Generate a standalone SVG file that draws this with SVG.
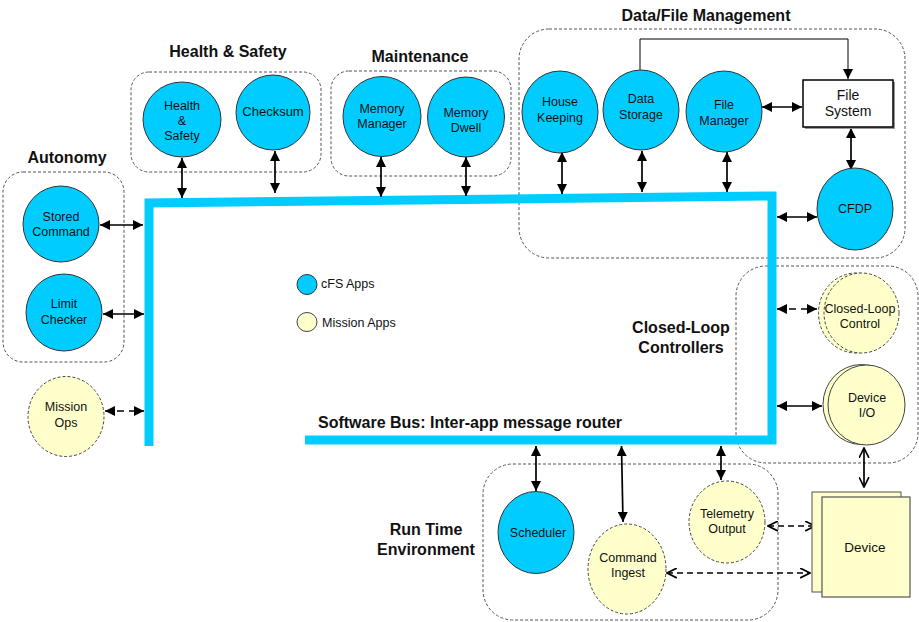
<svg xmlns="http://www.w3.org/2000/svg" width="919" height="622" viewBox="0 0 919 622">
<style>
text{font-family:"Liberation Sans",Arial,Helvetica,sans-serif;fill:#111}
.t{font-size:16px;font-weight:bold;text-anchor:middle}
.n{font-size:12.5px;text-anchor:middle}
.grp{fill:none;stroke:#555;stroke-width:1;stroke-dasharray:3 2}
.cfs{fill:#00CCFF;stroke:#333;stroke-width:1}
.mis{fill:#FFFFCC;stroke:#444;stroke-width:1;stroke-dasharray:3 2}
.mis2{fill:#FFFFCC;stroke:#444;stroke-width:1}
.c{stroke:#000;stroke-width:1.7;fill:none;marker-start:url(#ah);marker-end:url(#ah)}
.cd{stroke:#000;stroke-width:1.7;fill:none;stroke-dasharray:7 5;marker-start:url(#ah);marker-end:url(#ah)}
.co{stroke:#000;stroke-width:1.7;fill:none;marker-start:url(#ao);marker-end:url(#ao)}
.cod{stroke:#000;stroke-width:1.7;fill:none;stroke-dasharray:6 4;marker-start:url(#ao);marker-end:url(#ao)}
</style>
<defs>
<marker id="ah" viewBox="0 0 10 10" refX="10" refY="5" markerWidth="10" markerHeight="10" markerUnits="userSpaceOnUse" orient="auto-start-reverse"><path d="M0,0 L10,5 L0,10 z" fill="#000"/></marker>
<marker id="ao" viewBox="0 0 10 10" refX="9" refY="5" markerWidth="11" markerHeight="11" markerUnits="userSpaceOnUse" orient="auto-start-reverse"><path d="M0,0.5 L9,5 L0,9.5" fill="none" stroke="#000" stroke-width="1.5"/></marker>
</defs>
<rect width="919" height="622" fill="#fff"/>

<!-- group boxes -->
<g id="groups">
<rect class="grp" x="131" y="72" width="190" height="100" rx="18"/>
<rect class="grp" x="3" y="172" width="121" height="190" rx="20"/>
<rect class="grp" x="331" y="71" width="180" height="105" rx="18"/>
<rect class="grp" x="519" y="29" width="386" height="229" rx="30"/>
<rect class="grp" x="736" y="266" width="182" height="197" rx="30"/>
<rect class="grp" x="483" y="464" width="295" height="156" rx="30"/>
</g>

<!-- titles -->
<g id="titles">
<text class="t" x="228" y="57">Health &amp; Safety</text>
<text class="t" x="67" y="163">Autonomy</text>
<text class="t" x="420" y="62">Maintenance</text>
<text class="t" x="706" y="21">Data/File Management</text>
<text class="t" x="681" y="333">Closed-Loop</text>
<text class="t" x="681" y="353">Controllers</text>
<text class="t" x="318" y="428" style="text-anchor:start">Software Bus: Inter-app message router</text>
<text class="t" x="426" y="535">Run Time</text>
<text class="t" x="426" y="555">Environment</text>
</g>

<!-- software bus -->
<g id="software-bus">
<path d="M149,446 V203 L772,196 V440 H305" fill="none" stroke="#00CCFF" stroke-width="9" stroke-linejoin="miter"/>
</g>

<!-- connectors -->
<g id="connectors">
<line class="c" x1="182" y1="158" x2="182" y2="198"/>
<line class="c" x1="275" y1="151" x2="275" y2="193"/>
<line class="c" x1="100" y1="225" x2="143" y2="225"/>
<line class="c" x1="103" y1="314" x2="144" y2="314"/>
<line class="cd" x1="105" y1="411" x2="144" y2="411"/>
<line class="c" x1="381" y1="157" x2="381" y2="197"/>
<line class="c" x1="466" y1="157" x2="466" y2="196"/>
<line class="c" x1="562" y1="152" x2="562" y2="194"/>
<line class="c" x1="642" y1="151" x2="642" y2="192"/>
<line class="c" x1="727" y1="152" x2="727" y2="192"/>
<line class="c" x1="762" y1="107" x2="802" y2="107"/>
<line class="c" x1="851" y1="128" x2="851" y2="170"/>
<line class="c" x1="777" y1="217" x2="817" y2="217"/>
<path d="M640,70 V39 H848 V79" fill="none" stroke="#000" stroke-width="1" marker-end="url(#ah)"/>
<line class="cd" x1="777" y1="309" x2="817" y2="309"/>
<line class="c" x1="777" y1="406" x2="822" y2="406"/>
<line class="co" x1="864" y1="448" x2="864" y2="487"/>
<line class="c" x1="536" y1="446" x2="536" y2="491"/>
<line class="c" x1="621.5" y1="446" x2="623" y2="522"/>
<line class="c" x1="721" y1="446" x2="721" y2="480"/>
<line class="cod" x1="768" y1="526" x2="815" y2="526"/>
<line class="cod" x1="667" y1="573" x2="810" y2="573"/>
</g>

<!-- nodes -->
<g id="node-health-safety">
<ellipse class="cfs" cx="182" cy="119.5" rx="39" ry="37.5"/>
<text class="n" x="182" y="110">Health</text>
<text class="n" x="182" y="125">&amp;</text>
<text class="n" x="182" y="140">Safety</text>
</g>
<g id="node-checksum">
<ellipse class="cfs" cx="273" cy="112.5" rx="37" ry="37.5"/>
<text class="n" x="273" y="116" style="font-size:13px">Checksum</text>
</g>
<g id="node-stored-command">
<ellipse class="cfs" cx="61" cy="224" rx="38" ry="38"/>
<text class="n" x="61" y="221">Stored</text>
<text class="n" x="61" y="236">Command</text>
</g>
<g id="node-limit-checker">
<ellipse class="cfs" cx="64" cy="312.5" rx="38" ry="38.5"/>
<text class="n" x="64" y="308">Limit</text>
<text class="n" x="64" y="324">Checker</text>
</g>
<g id="node-mission-ops">
<ellipse class="mis" cx="66" cy="416.5" rx="38" ry="40"/>
<text class="n" x="66" y="411">Mission</text>
<text class="n" x="66" y="427">Ops</text>
</g>
<g id="node-memory-manager">
<ellipse class="cfs" cx="382" cy="116.5" rx="39" ry="40"/>
<text class="n" x="382" y="113">Memory</text>
<text class="n" x="382" y="128">Manager</text>
</g>
<g id="node-memory-dwell">
<ellipse class="cfs" cx="466" cy="117" rx="38.5" ry="40"/>
<text class="n" x="466" y="117">Memory</text>
<text class="n" x="466" y="132">Dwell</text>
</g>
<g id="node-house-keeping">
<ellipse class="cfs" cx="560" cy="112" rx="38" ry="41"/>
<text class="n" x="560" y="106">House</text>
<text class="n" x="560" y="122">Keeping</text>
</g>
<g id="node-data-storage">
<ellipse class="cfs" cx="641" cy="110" rx="38" ry="40"/>
<text class="n" x="641" y="103">Data</text>
<text class="n" x="641" y="119">Storage</text>
</g>
<g id="node-file-manager">
<ellipse class="cfs" cx="724" cy="111.5" rx="38" ry="40.5"/>
<text class="n" x="724" y="109">File</text>
<text class="n" x="724" y="125">Manager</text>
</g>
<g id="node-file-system">
<rect x="805" y="82" width="90" height="47" fill="#999"/>
<rect x="803" y="80" width="90" height="47" fill="#fff" stroke="#000" stroke-width="1.5"/>
<text class="n" x="848" y="100" style="font-size:14px">File</text>
<text class="n" x="848" y="116" style="font-size:14px">System</text>
</g>
<g id="node-cfdp">
<ellipse class="cfs" cx="855" cy="209" rx="38" ry="41"/>
<text class="n" x="855" y="213">CFDP</text>
</g>
<g id="node-closed-loop-control">
<ellipse class="mis" cx="856" cy="313" rx="37.5" ry="40"/>
<ellipse class="mis" cx="861.5" cy="313" rx="37.5" ry="40"/>
<text class="n" x="860" y="313">Closed-Loop</text>
<text class="n" x="860" y="328">Control</text>
</g>
<g id="node-device-io">
<ellipse class="mis2" cx="861.5" cy="404.5" rx="38.5" ry="40"/>
<ellipse class="mis2" cx="866.5" cy="405" rx="38.5" ry="40"/>
<text class="n" x="867" y="402">Device</text>
<text class="n" x="867" y="417">I/O</text>
</g>
<g id="node-scheduler">
<ellipse class="cfs" cx="536" cy="532.5" rx="38" ry="41"/>
<text class="n" x="538" y="537">Scheduler</text>
</g>
<g id="node-command-ingest">
<ellipse class="mis" cx="627" cy="569" rx="39" ry="45"/>
<text class="n" x="628" y="562">Command</text>
<text class="n" x="628" y="577">Ingest</text>
</g>
<g id="node-telemetry-output">
<ellipse class="mis" cx="727" cy="522" rx="38" ry="41"/>
<text class="n" x="727" y="518">Telemetry</text>
<text class="n" x="727" y="533">Output</text>
</g>
<g id="node-device">
<rect x="812" y="492" width="89" height="100" fill="#FFFFCC" stroke="#555" stroke-width="1"/>
<rect x="822" y="497" width="88" height="100" fill="#FFFFCC" stroke="#555" stroke-width="1.2"/>
<text class="n" x="865" y="552" style="font-size:13.5px">Device</text>
</g>

<!-- legend -->
<g id="legend">
<circle class="cfs" cx="307" cy="284.5" r="10"/>
<text x="321" y="288" style="font-size:12.5px">cFS Apps</text>
<ellipse class="mis2" cx="307" cy="322" rx="10" ry="9.5"/>
<text x="322" y="327" style="font-size:12.5px">Mission Apps</text>
</g>
</svg>
